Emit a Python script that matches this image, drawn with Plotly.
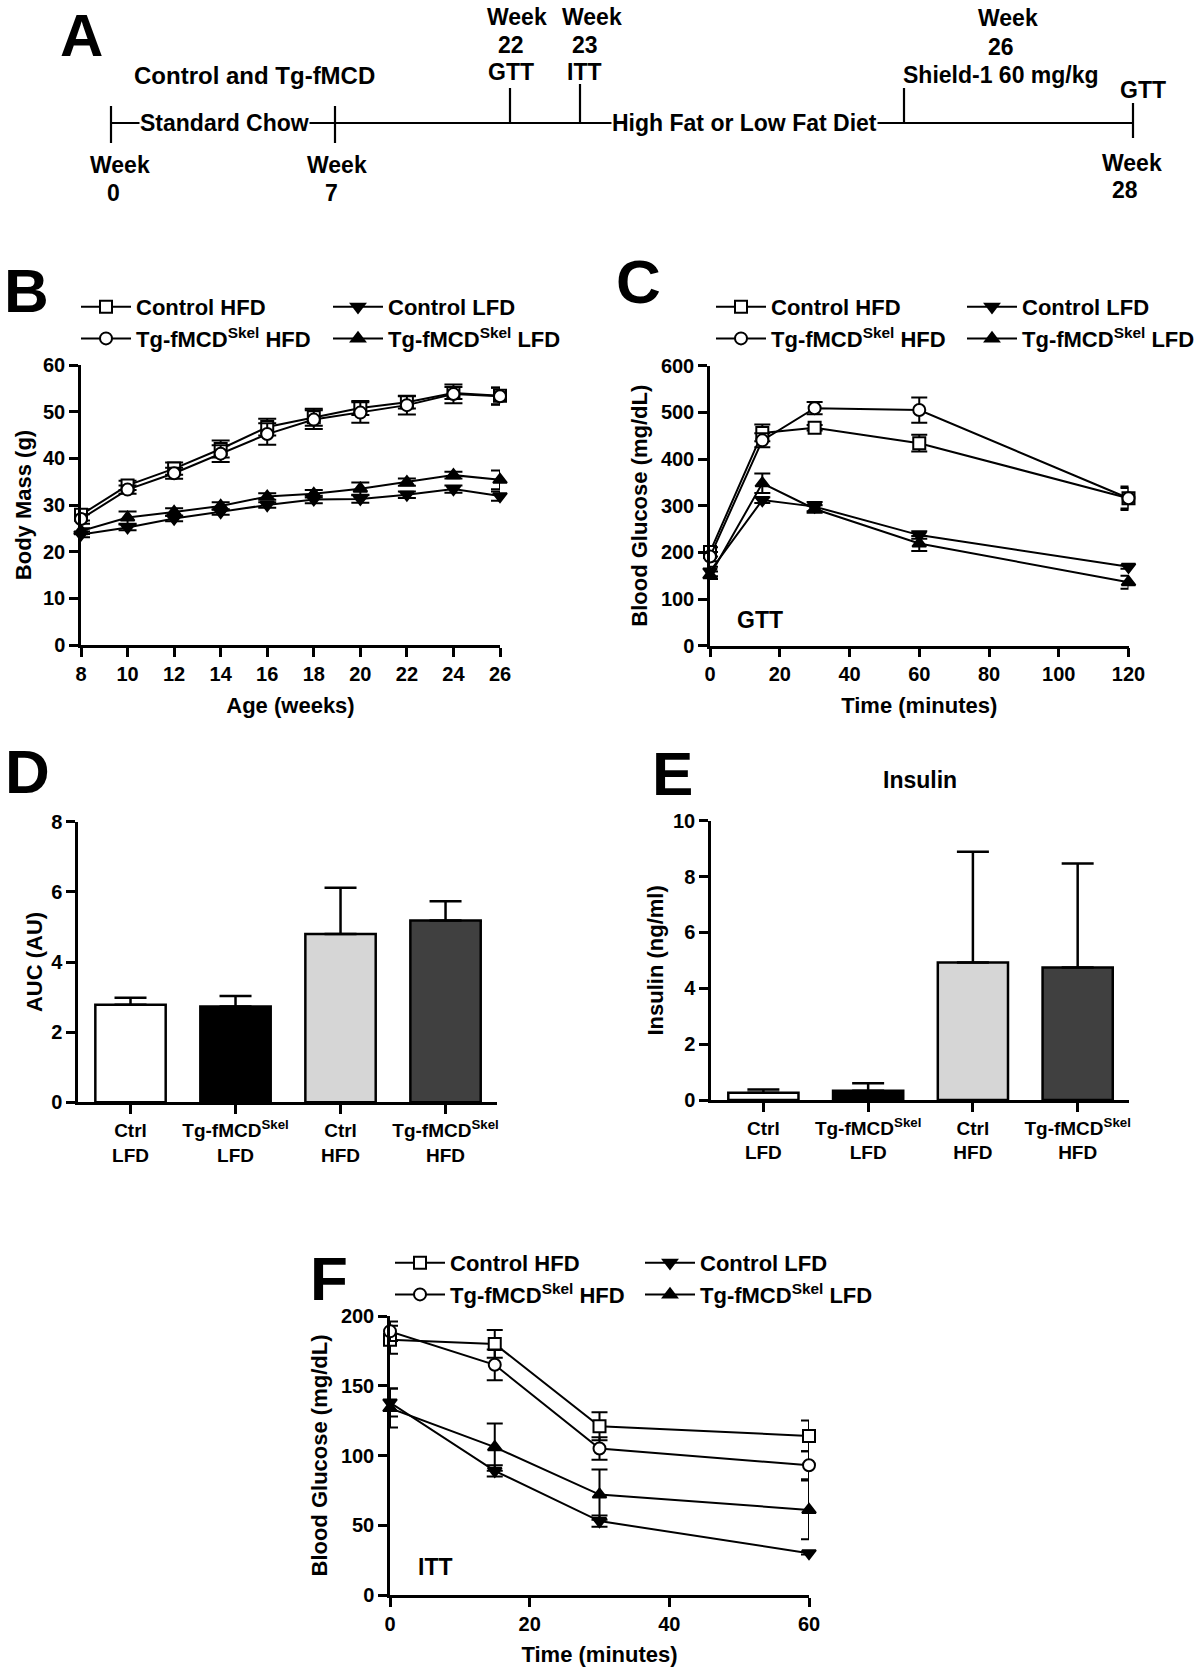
import plotly.graph_objects as go

W, H = 1200, 1667
FONT = "Liberation Sans, Arial, Helvetica, sans-serif"

# ---------------- data ----------------
# Panel A timeline (schematic)
tl_ticks = [111, 335, 510, 580, 904, 1133]          # schematic positions (px)

# Panel B: body mass
weeks = [8, 10, 12, 14, 16, 18, 20, 22, 24, 26]
b_ctrl_hfd = [27.9, 34.2, 37.8, 42.0, 46.7, 48.8, 50.8, 52.0, 54.0, 53.4]
b_ctrl_hfd_err = [1.2, 1.0, 1.3, 1.8, 1.8, 1.8, 1.5, 1.3, 1.3, 1.8]
b_tg_hfd = [27.0, 33.3, 36.8, 41.0, 45.2, 48.3, 49.8, 51.4, 53.8, 53.3]
b_tg_hfd_err = [1.0, 0.9, 1.2, 1.8, 2.3, 2.0, 2.2, 2.0, 2.0, 1.8]
b_ctrl_lfd = [23.7, 25.2, 27.1, 28.5, 30.0, 31.2, 31.3, 32.2, 33.4, 31.9]
b_ctrl_lfd_err = [0.6, 0.6, 0.6, 0.6, 0.6, 0.8, 0.8, 0.7, 0.8, 1.0]
b_tg_lfd = [24.4, 27.3, 28.5, 29.8, 31.8, 32.4, 33.5, 34.9, 36.4, 35.4]
b_tg_lfd_err = [0.6, 1.3, 0.8, 0.8, 0.7, 0.8, 1.3, 0.8, 0.7, 2.0]

# Panel C: GTT
gtt_time = [0, 15, 30, 60, 120]
c_ctrl_hfd = [201, 456, 467, 434, 316]
c_ctrl_hfd_err = [10, 18, 6, 18, 25]
c_tg_hfd = [191, 440, 509, 505, 316]
c_tg_hfd_err = [10, 15, 13, 27, 22]
c_ctrl_lfd = [159, 312, 298, 237, 169]
c_ctrl_lfd_err = [10, 6, 10, 8, 4]
c_tg_lfd = [151, 348, 293, 219, 136]
c_tg_lfd_err = [8, 21, 8, 16, 14]

# Panel D / E: bars
groups = ["Ctrl<br>LFD", "Tg-fMCD<sup>Skel</sup><br>LFD", "Ctrl<br>HFD", "Tg-fMCD<sup>Skel</sup><br>HFD"]
bar_colors = ["#ffffff", "#000000", "#d6d6d6", "#404040"]
auc = [2.78, 2.73, 4.80, 5.18]
auc_err = [0.20, 0.30, 1.32, 0.55]
insulin = [0.26, 0.33, 4.92, 4.74]
insulin_err = [0.12, 0.27, 3.97, 3.73]

# Panel F: ITT
itt_time = [0, 15, 30, 60]
f_ctrl_hfd = [183, 180, 121, 114]
f_ctrl_hfd_err = [10, 10, 10, 11]
f_tg_hfd = [189, 165, 105, 93]
f_tg_hfd_err = [7, 11, 8, 10]
f_ctrl_lfd = [138, 89, 53, 30]
f_ctrl_lfd_err = [10, 4, 4, 1]
f_tg_lfd = [134, 106, 72, 61]
f_tg_lfd_err = [14, 17, 18, 21]

series_names = ["Control HFD", "Tg-fMCD<sup>Skel</sup> HFD", "Control LFD", "Tg-fMCD<sup>Skel</sup> LFD"]
series_symbols = ["square", "circle", "triangle-down", "triangle-up"]
series_fill = ["white", "white", "black", "black"]

# ---------------- helpers ----------------
def fx(x):
    return x / W

def fy(y):
    return 1 - y / H

fig = go.Figure()


def add_panel(xs, ys_list, errs_list, xa, ya, leg_a, leg_b, capw):
    for i in range(4):
        fig.add_trace(go.Scatter(
            x=xs, y=ys_list[i], name=series_names[i],
            mode="lines+markers",
            line=dict(color="black", width=2),
            marker=dict(symbol=series_symbols[i], size=12, color=series_fill[i],
                        line=dict(color="black", width=2)),
            error_y=dict(type="data", array=errs_list[i], color="black",
                         thickness=2, width=capw),
            xaxis=xa, yaxis=ya, cliponaxis=False,
            legend=leg_a if i < 2 else leg_b,
            legendgroup=f"{leg_a}{i}",
        ))


add_panel(weeks, [b_ctrl_hfd, b_tg_hfd, b_ctrl_lfd, b_tg_lfd],
          [b_ctrl_hfd_err, b_tg_hfd_err, b_ctrl_lfd_err, b_tg_lfd_err],
          "x", "y", "legend", "legend2", 9)
add_panel(gtt_time, [c_ctrl_hfd, c_tg_hfd, c_ctrl_lfd, c_tg_lfd],
          [c_ctrl_hfd_err, c_tg_hfd_err, c_ctrl_lfd_err, c_tg_lfd_err],
          "x2", "y2", "legend3", "legend4", 8)
add_panel(itt_time, [f_ctrl_hfd, f_tg_hfd, f_ctrl_lfd, f_tg_lfd],
          [f_ctrl_hfd_err, f_tg_hfd_err, f_ctrl_lfd_err, f_tg_lfd_err],
          "x5", "y5", "legend5", "legend6", 8)

fig.add_trace(go.Bar(
    x=groups, y=auc, width=0.67,
    marker=dict(color=bar_colors, line=dict(color="black", width=2.5)),
    error_y=dict(type="data", array=auc_err, arrayminus=[0] * 4, symmetric=False,
                 color="black", thickness=2.5, width=16),
    xaxis="x3", yaxis="y3", showlegend=False))
fig.add_trace(go.Bar(
    x=groups, y=insulin, width=0.67,
    marker=dict(color=bar_colors, line=dict(color="black", width=2.5)),
    error_y=dict(type="data", array=insulin_err, arrayminus=[0] * 4, symmetric=False,
                 color="black", thickness=2.5, width=16),
    xaxis="x4", yaxis="y4", showlegend=False))

# ---------------- axes ----------------
def ax(**kw):
    d = dict(showline=True, linewidth=2.5, linecolor="black", ticks="outside",
             ticklen=9, tickwidth=2.5, tickcolor="black", showgrid=False,
             zeroline=False, tickfont=dict(size=20, color="black"), automargin=False,
             title_font=dict(size=22, color="black"))
    d.update(kw)
    return d


fig.update_layout(
    xaxis=ax(domain=[fx(81), fx(500)], anchor="y", range=[8, 26], dtick=2,
             title=dict(text="Age (weeks)", standoff=14)),
    yaxis=ax(domain=[fy(645), fy(365)], anchor="x", range=[0, 60], dtick=10,
             title=dict(text="Body Mass (g)", standoff=6)),
    xaxis2=ax(domain=[fx(710), fx(1128.5)], anchor="y2", range=[0, 120], dtick=20,
              title=dict(text="Time (minutes)", standoff=14)),
    yaxis2=ax(domain=[fy(645.7), fy(365.7)], anchor="x2", range=[0, 600], dtick=100,
              title=dict(text="Blood Glucose (mg/dL)", standoff=8)),
    xaxis3=ax(domain=[fx(78), fx(497)], anchor="y3", range=[-0.5, 3.49],
              type="category", tickfont=dict(size=19, color="black")),
    yaxis3=ax(domain=[fy(1102.3), fy(821.7)], anchor="x3", range=[0, 8], dtick=2,
              title=dict(text="AUC (AU)", standoff=3)),
    xaxis4=ax(domain=[fx(711), fx(1129)], anchor="y4", range=[-0.5, 3.49],
              type="category", tickfont=dict(size=19, color="black")),
    yaxis4=ax(domain=[fy(1100), fy(820.7)], anchor="x4", range=[0, 10], dtick=2,
              title=dict(text="Insulin (ng/ml)", standoff=4)),
    xaxis5=ax(domain=[fx(390), fx(809)], anchor="y5", range=[0, 60], dtick=20,
              title=dict(text="Time (minutes)", standoff=24)),
    yaxis5=ax(domain=[fy(1595), fy(1316)], anchor="x5", range=[0, 200], dtick=50,
              title=dict(text="Blood Glucose (mg/dL)", standoff=8)),
)

# ---------------- legends ----------------
def leg(x, y):
    return dict(x=fx(x), y=fy(y), xanchor="left", yanchor="top", orientation="v",
                bgcolor="rgba(0,0,0,0)", font=dict(size=22, color="black"),
                itemwidth=50, tracegroupgap=0, traceorder="normal")


fig.update_layout(
    legend=leg(76, 286), legend2=leg(328, 286),
    legend3=leg(711, 286), legend4=leg(962, 286),
    legend5=leg(390, 1242), legend6=leg(640, 1242),
)

# ---------------- panel A (timeline schematic) ----------------
shapes = []
LW = 2.2
shapes.append(dict(type="line", xref="paper", yref="paper", x0=fx(111), x1=fx(1133),
                   y0=fy(123), y1=fy(123), line=dict(color="black", width=LW)))
tick_spans = [(106, 143), (106, 143), (88, 123), (84, 123), (88, 123), (103, 138)]
for xp, (t, b) in zip(tl_ticks, tick_spans):
    shapes.append(dict(type="line", xref="paper", yref="paper", x0=fx(xp), x1=fx(xp),
                       y0=fy(t), y1=fy(b), line=dict(color="black", width=LW)))

annotations = []


def txt(s, x, y, size=23, bg=None, xanchor="center", yanchor="middle"):
    a = dict(text=s, x=fx(x), y=fy(y), xref="paper", yref="paper", showarrow=False,
             xanchor=xanchor, yanchor=yanchor, font=dict(size=size, color="black"))
    if bg:
        a["bgcolor"] = bg
        a["borderpad"] = 0
    annotations.append(a)


timeline_labels = [
    ("Control and Tg-fMCD", 254, 75), ("Week", 120, 165), ("0", 113, 193),
    ("Week", 337, 165), ("7", 331, 193),
    ("Week", 517, 17), ("22", 511, 45), ("GTT", 511, 72),
    ("Week", 592, 17), ("23", 585, 45), ("ITT", 584, 72),
    ("Week", 1008, 18), ("26", 1001, 47), ("Shield-1 60 mg/kg", 1001, 75),
    ("GTT", 1143, 90), ("Week", 1132, 163), ("28", 1125, 190),
]
for s, x, y in timeline_labels:
    txt(s, x, y, size=(24 if s.startswith("Control") else 23))
txt("Standard Chow", 224, 123, bg="white")
txt("High Fat or Low Fat Diet", 744, 123, bg="white")

# panel letters
txt("A", 58, 0, size=60, xanchor="left", yanchor="top")
for s, x, y in [("B", 2, 290), ("C", 614, 282), ("D", 3, 771),
                ("E", 650, 773), ("F", 308, 1278)]:
    txt(s, x, y, size=62, xanchor="left")

# in-plot labels
txt("GTT", 760, 620, size=23)
txt("ITT", 435, 1567, size=23)
txt("Insulin", 920, 780, size=23)

fig.update_layout(
    shapes=shapes, annotations=annotations,
    width=W, height=H, margin=dict(l=0, r=0, t=0, b=0),
    template="none", paper_bgcolor="white", plot_bgcolor="white",
    font=dict(family=FONT, color="black", weight="bold", size=20),
    bargap=0.33,
)

fig.write_html("out.html", config={"displayModeBar": False},
               post_script="document.body.style.margin='0px';")
